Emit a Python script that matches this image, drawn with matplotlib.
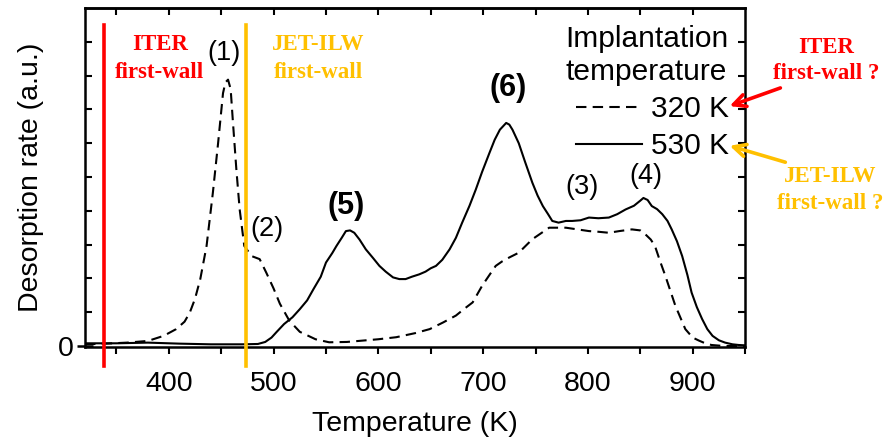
import numpy as np
import matplotlib

matplotlib.use("Agg")
import matplotlib.pyplot as plt
from matplotlib.ticker import FixedLocator

# TDS spectra, deuterium desorption rate vs temperature
temp_320 = [320, 340, 360, 380, 395, 407, 415, 420, 425, 430, 436, 442, 447,
            451.7, 454, 456.5, 459, 461, 464.5, 467.6, 472, 479, 486.7, 493,
            500, 506, 515, 525, 540, 553, 570, 585, 600, 617, 635, 649, 662,
            674, 682, 690, 699, 706, 712, 718, 725, 734, 747, 763, 779, 790,
            801, 810, 820, 830, 842, 850, 855, 860, 864, 869, 874, 883.5, 893,
            900, 906, 912, 918, 930, 950]
rate_320 = [0.05, 0.07, 0.1, 0.15, 0.3, 0.5, 0.72, 0.99, 1.4, 1.98, 2.96, 4.53,
            6.0, 7.48, 7.8, 7.88, 7.6, 6.7, 5.2, 4.04, 2.96, 2.66, 2.57, 2.17,
            1.7, 1.25, 0.75, 0.42, 0.2, 0.11, 0.12, 0.16, 0.2, 0.26, 0.38, 0.5,
            0.7, 0.9, 1.1, 1.29, 1.78, 2.1, 2.37, 2.5, 2.62, 2.76, 3.16, 3.5,
            3.5, 3.45, 3.4, 3.38, 3.35, 3.4, 3.45, 3.42, 3.3, 3.15, 2.96, 2.5,
            2.07, 1.19, 0.5, 0.25, 0.16, 0.08, 0.03, 0.0, 0.0]

temp_530 = [320, 350, 380, 410, 440, 470, 485, 492, 498, 503, 510, 518, 525,
            532, 538, 545, 550, 556, 560, 565, 569, 573, 577, 582, 588, 595,
            601, 607, 614, 620, 626, 632, 639, 645, 650, 655, 661, 668, 674,
            680, 687, 693, 699, 706, 711, 716, 719, 722, 725, 728, 731, 734,
            740, 747, 752, 757, 762, 766, 772, 779, 785, 793, 801, 810, 820,
            828, 836, 844, 850, 853, 857, 861, 866, 871, 876, 880, 885, 890,
            895, 899, 904, 909, 914, 919, 925, 931, 938, 944, 950]
rate_530 = [0.08, 0.08, 0.1, 0.07, 0.05, 0.05, 0.06, 0.12, 0.25, 0.42, 0.65,
            0.85, 1.09, 1.35, 1.68, 2.05, 2.47, 2.75, 2.96, 3.2, 3.4, 3.42,
            3.35, 3.15, 2.86, 2.6, 2.37, 2.2, 2.03, 1.98, 1.98, 2.05, 2.12,
            2.2, 2.3, 2.37, 2.55, 2.86, 3.2, 3.65, 4.15, 4.63, 5.15, 5.71, 6.1,
            6.4, 6.5, 6.6, 6.55, 6.4, 6.2, 6.0, 5.45, 4.83, 4.45, 4.14, 3.9,
            3.7, 3.65, 3.7, 3.7, 3.72, 3.8, 3.78, 3.8, 3.9, 4.04, 4.15, 4.3,
            4.38, 4.32, 4.14, 4.05, 3.9, 3.7, 3.45, 3.1, 2.66, 2.1, 1.58, 1.15,
            0.8, 0.5, 0.3, 0.17, 0.1, 0.05, 0.03, 0.02]

# peak labels: text, temperature, rate, bold
peak_labels = ["(1)", "(2)", "(5)", "(6)", "(3)", "(4)"]
peak_temps = [453, 494, 569, 724, 794, 855]
peak_rates = [8.67, 3.45, 4.13, 7.64, 4.69, 5.02]
peak_bold = [False, False, True, True, False, False]

# first-wall temperatures of the two machines
wall_names = ["ITER\nfirst-wall", "JET-ILW\nfirst-wall"]
wall_temps = [338.4, 473.3]
wall_colors = ["#ff0000", "#ffc000"]
wall_label_temps = [391.5, 543]

SANS = ["Liberation Sans", "DejaVu Sans"]
SERIF = ["Liberation Serif", "DejaVu Serif"]

plt.rcParams["font.family"] = SANS
plt.rcParams["axes.linewidth"] = 1.8

fig = plt.figure(figsize=(8.84, 4.37), dpi=100)
ax = fig.add_axes([0.0962, 0.2059, 0.8428 - 0.0962, 0.9817 - 0.2059])

ax.plot(temp_320, rate_320, color="black", lw=1.5, ls=(0, (5, 3)),
        label="320 K")
ax.plot(temp_530, rate_530, color="black", lw=1.5, label="530 K")

ax.set_xlim(320, 950)
ax.set_ylim(-0.03, 10)

for t, c in zip(wall_temps, wall_colors):
    ax.plot([t, t], [-0.59, 9.5], color=c, lw=2.6, clip_on=False, zorder=3)

for txt, t, r, b in zip(peak_labels, peak_temps, peak_rates, peak_bold):
    ax.text(t, r, txt, ha="center", va="center",
            fontsize=22 if b else 19.5, fontweight="bold" if b else "normal")

# wall captions inside the axes
for name, t, c in zip(wall_names, wall_label_temps, wall_colors):
    ax.text(t, 8.51, name, color=c, ha="center", va="center", fontsize=16.5,
            fontweight="bold", family=SERIF, linespacing=1.4)

# ticks: bottom outward, left/right/top inward
ax.xaxis.set_major_locator(FixedLocator([400, 500, 600, 700, 800, 900]))
ax.xaxis.set_minor_locator(FixedLocator([350, 450, 550, 650, 750, 850, 950]))
ax.tick_params(axis="x", which="both", direction="out", length=5, width=1.5,
               labelsize=20.5, pad=12)
ax.yaxis.set_major_locator(FixedLocator([0]))
ax.yaxis.set_minor_locator(FixedLocator(np.arange(1, 10)))
ax.tick_params(axis="y", which="major", direction="inout", length=12,
               width=1.8, labelsize=20.5, pad=2)
ax.tick_params(axis="y", which="minor", direction="in", length=5, width=1.5,
               right=True)

top = ax.secondary_xaxis("top")
top.xaxis.set_major_locator(FixedLocator(np.arange(350, 901, 50)))
top.tick_params(direction="in", length=5, width=1.5, labeltop=False)

ax.set_xlabel("Temperature (K)", fontsize=20.5, labelpad=10)
ax.set_ylabel("Desorption rate (a.u.)", fontsize=20.5, labelpad=10)

leg = ax.legend(title="Implantation\ntemperature", loc="upper right",
                bbox_to_anchor=(0.98, 0.96), frameon=False, fontsize=21.5,
                title_fontsize=21.5, handlelength=2.2, handletextpad=0.3,
                labelspacing=0.3, borderpad=0.1, borderaxespad=0.0,
                alignment="right")
leg.get_title().set_linespacing(1.25)

# question arrows pointing at the legend entries
fig.text(826 / 884, 1 - 60.5 / 437, "ITER\nfirst-wall ?", color="#ff0000",
         ha="center", va="center", fontsize=16.5, fontweight="bold",
         family=SERIF, linespacing=1.35)
fig.text(830 / 884, 1 - 190 / 437, "JET-ILW\nfirst-wall ?", color="#ffc000",
         ha="center", va="center", fontsize=16.5, fontweight="bold",
         family=SERIF, linespacing=1.35)
ax.annotate("", xy=(727, 437 - 107), xytext=(783, 437 - 87),
            xycoords="figure pixels", textcoords="figure pixels",
            arrowprops=dict(arrowstyle="->", color="#ff0000", lw=2.6,
                            mutation_scale=22), annotation_clip=False)
ax.annotate("", xy=(727, 437 - 145), xytext=(788, 437 - 163),
            xycoords="figure pixels", textcoords="figure pixels",
            arrowprops=dict(arrowstyle="->", color="#ffc000", lw=2.6,
                            mutation_scale=22), annotation_clip=False)

fig.savefig("out.png", dpi=100)
